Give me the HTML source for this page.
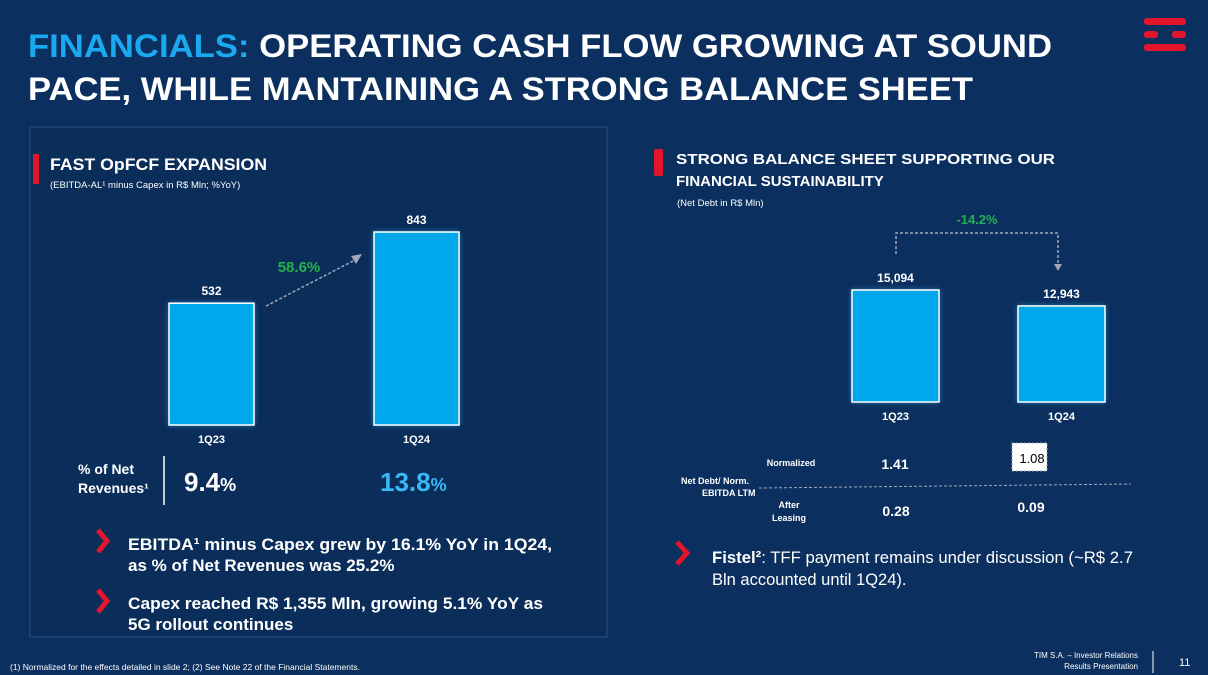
<!DOCTYPE html>
<html><head><meta charset="utf-8">
<style>
body{margin:0;width:1208px;height:675px;overflow:hidden;background:#0b2f5e;font-family:"Liberation Sans",sans-serif;}
svg{display:block}
text{font-family:"Liberation Sans",sans-serif;}
</style></head>
<body>
<svg id="s" width="1208" height="675" xmlns="http://www.w3.org/2000/svg">
<defs>
<filter id="glow" x="-30%" y="-30%" width="160%" height="160%"><feGaussianBlur stdDeviation="3"/></filter>
</defs>
<rect width="1208" height="675" fill="#0b2f5e"/>
<g>
<text x="28" y="57" font-size="32" font-weight="bold" fill="#fff" textLength="1024" lengthAdjust="spacingAndGlyphs"><tspan fill="#1aa8f0">FINANCIALS:</tspan> OPERATING CASH FLOW GROWING AT SOUND</text>
<text x="28" y="100" font-size="32" font-weight="bold" fill="#fff" textLength="945" lengthAdjust="spacingAndGlyphs">PACE, WHILE MANTAINING A STRONG BALANCE SHEET</text>
</g>
<g fill="#e3152b">
<rect x="1144" y="18" width="42" height="7" rx="3"/>
<rect x="1144" y="31" width="14" height="7" rx="3"/><rect x="1172" y="31" width="14" height="7" rx="3"/>
<rect x="1144" y="44" width="42" height="7" rx="3"/>
</g>
<g>
<rect x="30" y="127" width="577" height="510" fill="#0b2d5a" stroke="#2d4f7d" stroke-width="1"/>
<rect x="33" y="154" width="6" height="30" fill="#e3152b"/>
<text x="50" y="170" font-size="17" font-weight="bold" fill="#fff" textLength="217" lengthAdjust="spacingAndGlyphs">FAST OpFCF EXPANSION</text>
<text x="50" y="188" font-size="9.5" fill="#fff">(EBITDA-AL¹ minus Capex in R$ Mln; %YoY)</text>
</g>
<g id="leftChart"></g>
<g>
<text x="78" y="474" font-size="14" font-weight="bold" fill="#fff">% of Net</text>
<text x="78" y="493" font-size="14" font-weight="bold" fill="#fff">Revenues¹</text>
<line x1="164" y1="456" x2="164" y2="505" stroke="#fff" stroke-width="1.5"/>
<text x="184" y="491" font-size="26" font-weight="bold" fill="#fff">9.4<tspan font-size="18">%</tspan></text>
<text x="380" y="491" font-size="26" font-weight="bold" fill="#3ab8f5">13.8<tspan font-size="18">%</tspan></text>
</g>
<g font-size="17" font-weight="bold" fill="#fff">
<path d="M98 530 L107 541 L98 552" stroke="#e3152b" stroke-width="5" fill="none"/>
<text x="128" y="550" textLength="424" lengthAdjust="spacingAndGlyphs">EBITDA¹ minus Capex grew by 16.1% YoY in 1Q24,</text>
<text x="128" y="571">as % of Net Revenues was 25.2%</text>
<path d="M98 590 L107 601 L98 612" stroke="#e3152b" stroke-width="5" fill="none"/>
<text x="128" y="609" textLength="415" lengthAdjust="spacingAndGlyphs">Capex reached R$ 1,355 Mln, growing 5.1% YoY as</text>
<text x="128" y="630">5G rollout continues</text>
</g>
<g>
<rect x="654" y="149" width="9" height="27" rx="2" fill="#e3152b"/>
<text x="676" y="164" font-size="15" font-weight="bold" fill="#fff" textLength="379" lengthAdjust="spacingAndGlyphs">STRONG BALANCE SHEET SUPPORTING OUR</text>
<text x="676" y="186" font-size="15" font-weight="bold" fill="#fff">FINANCIAL SUSTAINABILITY</text>
<text x="677" y="206" font-size="9.5" fill="#fff">(Net Debt in R$ Mln)</text>
</g>
<g id="rightChart"></g>
<g fill="#fff" font-weight="bold">
<text x="791" y="466" font-size="9" text-anchor="middle">Normalized</text>
<text x="681" y="484" font-size="9">Net Debt/ Norm.</text>
<text x="702" y="496" font-size="9">EBITDA LTM</text>
<text x="789" y="508" font-size="9" text-anchor="middle">After</text>
<text x="789" y="521" font-size="9" text-anchor="middle">Leasing</text>
<line x1="759" y1="488" x2="1131" y2="484" stroke="#9aa8bb" stroke-dasharray="3,2"/>
<text x="895" y="469" font-size="14" text-anchor="middle">1.41</text>
<rect x="1012" y="443" width="35" height="28" fill="#fff" stroke="#9aa8bb" stroke-dasharray="2,2"/>
<text x="1032" y="463" font-size="13" fill="#000" font-weight="normal" text-anchor="middle">1.08</text>
<text x="896" y="516" font-size="14" text-anchor="middle">0.28</text>
<text x="1031" y="512" font-size="14" text-anchor="middle">0.09</text>
</g>
<g font-size="16.5" fill="#fff">
<path d="M677 542 L687 553 L677 564" stroke="#e3152b" stroke-width="5" fill="none"/>
<text x="712" y="563" textLength="421" lengthAdjust="spacingAndGlyphs"><tspan font-weight="bold">Fistel²</tspan>: TFF payment remains under discussion (~R$ 2.7</text>
<text x="712" y="585">Bln accounted until 1Q24).</text>
</g>
<g fill="#fff">
<text x="10" y="670" font-size="8.5">(1)    Normalized for the effects detailed in slide 2; (2)    See Note 22 of the Financial Statements.</text>
<text x="1138" y="658" font-size="8" text-anchor="end">TIM S.A. – Investor Relations</text>
<text x="1138" y="669" font-size="8" text-anchor="end">Results Presentation</text>
<line x1="1153" y1="651" x2="1153" y2="673" stroke="#fff"/>
<text x="1179" y="666" font-size="11">11</text>
</g>
</svg>
<script>
const leftCats=["1Q23","1Q24"];
const leftVals=[532,843];
const leftLabels=["532","843"];
const leftGrowth="58.6%";
const rightCats=["1Q23","1Q24"];
const rightVals=[15094,12943];
const rightLabels=["15,094","12,943"];
const rightChange="-14.2%";
const NS="http://www.w3.org/2000/svg";
function mk(p,t,a){const e=document.createElementNS(NS,t);for(const k in a)e.setAttribute(k,a[k]);p.appendChild(e);return e;}
function draw(gid,cats,vals,labels,xs,bw,base,scale,catY,nameP){
  const g=document.getElementById(gid);const tops=[];
  cats.forEach((c,i)=>{
    const h=vals[i]*scale,y=base-h;tops.push(y);
    const gl=mk(g,'rect',{x:xs[i],y:y,width:bw,height:h,fill:'#3ab8f5',filter:'url(#glow)',opacity:0.7});
    
    
    const r=mk(g,'rect',{x:xs[i],y:y,width:bw,height:h,fill:'#00a7ea',stroke:'#fff','stroke-width':1.5});
    
    
    const t=mk(g,'text',{x:xs[i]+bw/2,y:y-8,'font-size':12,'font-weight':'bold',fill:'#fff','text-anchor':'middle'});t.textContent=labels[i];
    
    
    const ct=mk(g,'text',{x:xs[i]+bw/2,y:catY,'font-size':11,'font-weight':'bold',fill:'#fff','text-anchor':'middle'});ct.textContent=c;
    
    
  });
  return tops;
}
const lt=draw('leftChart',leftCats,leftVals,leftLabels,[169,374],85,425,193/843,443,'opfcf');
const lg=document.getElementById('leftChart');
mk(lg,'line',{x1:266,y1:306,x2:355,y2:260,stroke:'#a0a8b8','stroke-width':1.5,'stroke-dasharray':'3,2'});
mk(lg,'path',{d:'M362 254 L351 256 L356 264 Z',fill:'#a0a8b8'});
const lgt=mk(lg,'text',{x:299,y:272,'font-size':15,'font-weight':'bold',fill:'#22b14c','text-anchor':'middle'});lgt.textContent=leftGrowth;


const rt=draw('rightChart',rightCats,rightVals,rightLabels,[852,1018],87,402,112/15094,420,'net-debt');
const rg=document.getElementById('rightChart');
mk(rg,'path',{d:'M896 254 L896 233 L1058 233 L1058 265',stroke:'#a0a8b8','stroke-width':1.5,fill:'none','stroke-dasharray':'3,2'});
mk(rg,'path',{d:'M1054 264 L1062 264 L1058 271 Z',fill:'#a0a8b8'});
const rct=mk(rg,'text',{x:977,y:224,'font-size':13,'font-weight':'bold',fill:'#22b14c','text-anchor':'middle'});rct.textContent=rightChange;


</script>
</body></html>
